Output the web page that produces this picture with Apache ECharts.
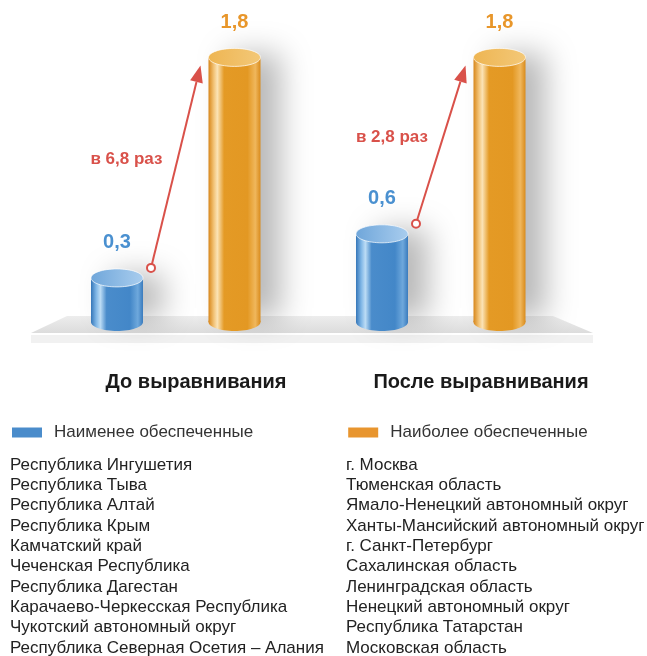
<!DOCTYPE html>
<html>
<head>
<meta charset="utf-8">
<script src="https://cdn.jsdelivr.net/npm/echarts@6/dist/echarts.min.js"></script>
<style>
  html, body { margin: 0; padding: 0; background: #fff; }
  #main { width: 647px; height: 656px; }
</style>
</head>
<body>
<div id="main"></div>
<script>
  // данные
  var categories = ['До выравнивания', 'После выравнивания'];
  var seriesNames = ['Наименее обеспеченные', 'Наиболее обеспеченные'];
  var leastValues = [0.3, 0.6];
  var mostValues = [1.8, 1.8];
  var ratioLabels = ['в 6,8 раз', 'в 2,8 раз'];
  var leastRegions = [
    'Республика Ингушетия',
    'Республика Тыва',
    'Республика Алтай',
    'Республика Крым',
    'Камчатский край',
    'Чеченская Республика',
    'Республика Дагестан',
    'Карачаево-Черкесская Республика',
    'Чукотский автономный округ',
    'Республика Северная Осетия – Алания'
  ];
  var mostRegions = [
    'г. Москва',
    'Тюменская область',
    'Ямало-Ненецкий автономный округ',
    'Ханты-Мансийский автономный округ',
    'г. Санкт-Петербург',
    'Сахалинская область',
    'Ленинградская область',
    'Ненецкий автономный округ',
    'Республика Татарстан',
    'Московская область'
  ];

  var FONT = '"Liberation Sans", Arial, sans-serif';
  var BLUE = '#4a8ccb', ORANGE = '#e8962a', RED = '#d9514a';
  var OFF_LEAST = -59, OFF_MOST = 58.5;
  var RX = 26, RY = 9;

  function fmt(v) { return v.toFixed(1).replace('.', ','); }

  var palettes = {
    least: {
      body: [
        { offset: 0, color: '#3576b8' },
        { offset: 0.1, color: '#7fb6e6' },
        { offset: 0.18, color: '#bcdcf5' },
        { offset: 0.3, color: '#4a8ccb' },
        { offset: 0.75, color: '#4387c8' },
        { offset: 0.9, color: '#6ea8dc' },
        { offset: 1, color: '#3a7bbd' }
      ],
      top: [{ offset: 0, color: '#6fa6da' }, { offset: 1, color: '#a9cdee' }],
      label: '#4a90d0'
    },
    most: {
      body: [
        { offset: 0, color: '#d7861a' },
        { offset: 0.1, color: '#f2c275' },
        { offset: 0.17, color: '#fbe3b6' },
        { offset: 0.3, color: '#e49a25' },
        { offset: 0.75, color: '#e39823' },
        { offset: 0.9, color: '#f0b75c' },
        { offset: 1, color: '#d98b1c' }
      ],
      top: [{ offset: 0, color: '#eeb552' }, { offset: 1, color: '#f3c878' }],
      label: ORANGE
    }
  };

  function cylinder(offset, pal) {
    return function (params, api) {
      var top = api.coord([api.value(0), api.value(1)]);
      var base = api.coord([api.value(0), 0]);
      var cx = top[0] + offset;
      var bodyFill = new echarts.graphic.LinearGradient(0, 0, 1, 0, pal.body);
      return {
        type: 'group',
        children: [
          {
            type: 'rect',
            shape: { x: cx - RX, y: top[1], width: RX * 2, height: base[1] - top[1] },
            style: {
              fill: bodyFill,
              shadowColor: 'rgba(0,0,0,0.28)',
              shadowBlur: 30,
              shadowOffsetX: 20,
              shadowOffsetY: -4
            }
          },
          {
            type: 'ellipse',
            shape: { cx: cx, cy: base[1], rx: RX, ry: RY },
            style: { fill: bodyFill }
          },
          {
            type: 'ellipse',
            shape: { cx: cx, cy: top[1], rx: RX, ry: RY },
            style: {
              fill: new echarts.graphic.LinearGradient(0, 0, 1, 0, pal.top),
              stroke: 'rgba(255,255,255,0.7)',
              lineWidth: 1
            }
          },
          {
            type: 'text',
            x: cx,
            y: top[1] - RY - 26,
            style: {
              text: fmt(api.value(1)),
              fill: pal.label,
              font: 'bold 20px ' + FONT,
              align: 'center',
              verticalAlign: 'middle'
            }
          }
        ]
      };
    };
  }

  function arrowItem(params, api) {
    var i = api.value(0);
    var lo = api.coord([i, api.value(1)]);
    var hi = api.coord([i, api.value(2)]);
    var s = [lo[0] + OFF_LEAST + 34, lo[1] - 10];
    var e = [hi[0] + OFF_MOST - 34, hi[1] + 8];
    var dx = e[0] - s[0], dy = e[1] - s[1];
    var len = Math.sqrt(dx * dx + dy * dy);
    var ux = dx / len, uy = dy / len;
    var hb = [e[0] - ux * 17, e[1] - uy * 17];
    var ty = (s[1] + e[1]) / 2 - 7;
    var lx = s[0] + (s[1] - ty) / (s[1] - e[1]) * (e[0] - s[0]);
    return {
      type: 'group',
      children: [
        {
          type: 'line',
          shape: { x1: s[0], y1: s[1], x2: hb[0], y2: hb[1] },
          style: { stroke: RED, lineWidth: 2 }
        },
        {
          type: 'polygon',
          shape: {
            points: [
              e,
              [hb[0] - uy * 6.5, hb[1] + ux * 6.5],
              [hb[0] + uy * 6.5, hb[1] - ux * 6.5]
            ]
          },
          style: { fill: RED }
        },
        {
          type: 'circle',
          shape: { cx: s[0], cy: s[1], r: 4 },
          style: { fill: '#fff', stroke: RED, lineWidth: 2 }
        },
        {
          type: 'text',
          x: lx - 15,
          y: ty,
          style: {
            text: ratioLabels[params.dataIndex],
            fill: RED,
            font: 'bold 17px ' + FONT,
            align: 'right',
            verticalAlign: 'middle'
          }
        }
      ]
    };
  }

  var listStyle = { fontSize: 17, fontWeight: 'normal', color: '#222', lineHeight: 20.3, fontFamily: FONT };

  var chart = echarts.init(document.getElementById('main'), null, { renderer: 'canvas' });
  chart.setOption({
    animation: false,
    textStyle: { fontFamily: FONT },
    title: [
      { left: 10, top: 455, padding: 0, text: leastRegions.join('\n'), textStyle: listStyle },
      { left: 346, top: 455, padding: 0, text: mostRegions.join('\n'), textStyle: listStyle }
    ],
    legend: {
      data: seriesNames,
      left: 12,
      top: 424,
      padding: 0,
      icon: 'rect',
      itemWidth: 30,
      itemHeight: 10,
      itemGap: 95,
      selectedMode: false,
      textStyle: { fontSize: 17, color: '#333', fontFamily: FONT, padding: [0, 0, 0, 7] }
    },
    graphic: [
      {
        type: 'polygon',
        z: 0,
        shape: { points: [[67, 316], [553, 316], [593, 333], [31, 333]] },
        style: {
          fill: new echarts.graphic.LinearGradient(0, 0, 0, 1, [
            { offset: 0, color: '#ededed' },
            { offset: 1, color: '#dcdcdc' }
          ])
        }
      },
      {
        type: 'rect',
        z: 0,
        shape: { x: 31, y: 335, width: 562, height: 8 },
        style: { fill: '#f1f1f1' }
      }
    ],
    grid: { left: 43.5, right: 73.5, top: 28, bottom: 334 },
    xAxis: {
      type: 'category',
      data: [
        { value: categories[0], textStyle: { padding: [0, 0, 0, 40] } },
        { value: categories[1], textStyle: { padding: [0, 0, 0, 80] } }
      ],
      axisLine: { show: false },
      axisTick: { show: false },
      axisLabel: {
        interval: 0,
        hideOverlap: false,
        margin: 50,
        fontSize: 20,
        fontWeight: 'bold',
        color: '#1a1a1a',
        fontFamily: FONT
      }
    },
    yAxis: { type: 'value', min: 0, max: 2, show: false, splitLine: { show: false } },
    series: [
      {
        name: seriesNames[0],
        type: 'custom',
        z: 2,
        itemStyle: { color: BLUE },
        renderItem: cylinder(OFF_LEAST, palettes.least),
        encode: { x: 0, y: 1 },
        data: leastValues.map(function (v, i) { return [i, v]; })
      },
      {
        name: seriesNames[1],
        type: 'custom',
        z: 2,
        itemStyle: { color: '#e8952e' },
        renderItem: cylinder(OFF_MOST, palettes.most),
        encode: { x: 0, y: 1 },
        data: mostValues.map(function (v, i) { return [i, v]; })
      },
      {
        name: 'ratio',
        type: 'custom',
        z: 3,
        renderItem: arrowItem,
        encode: { x: 0, y: [1, 2] },
        data: leastValues.map(function (v, i) { return [i, v, mostValues[i]]; })
      }
    ]
  });
</script>
</body>
</html>
